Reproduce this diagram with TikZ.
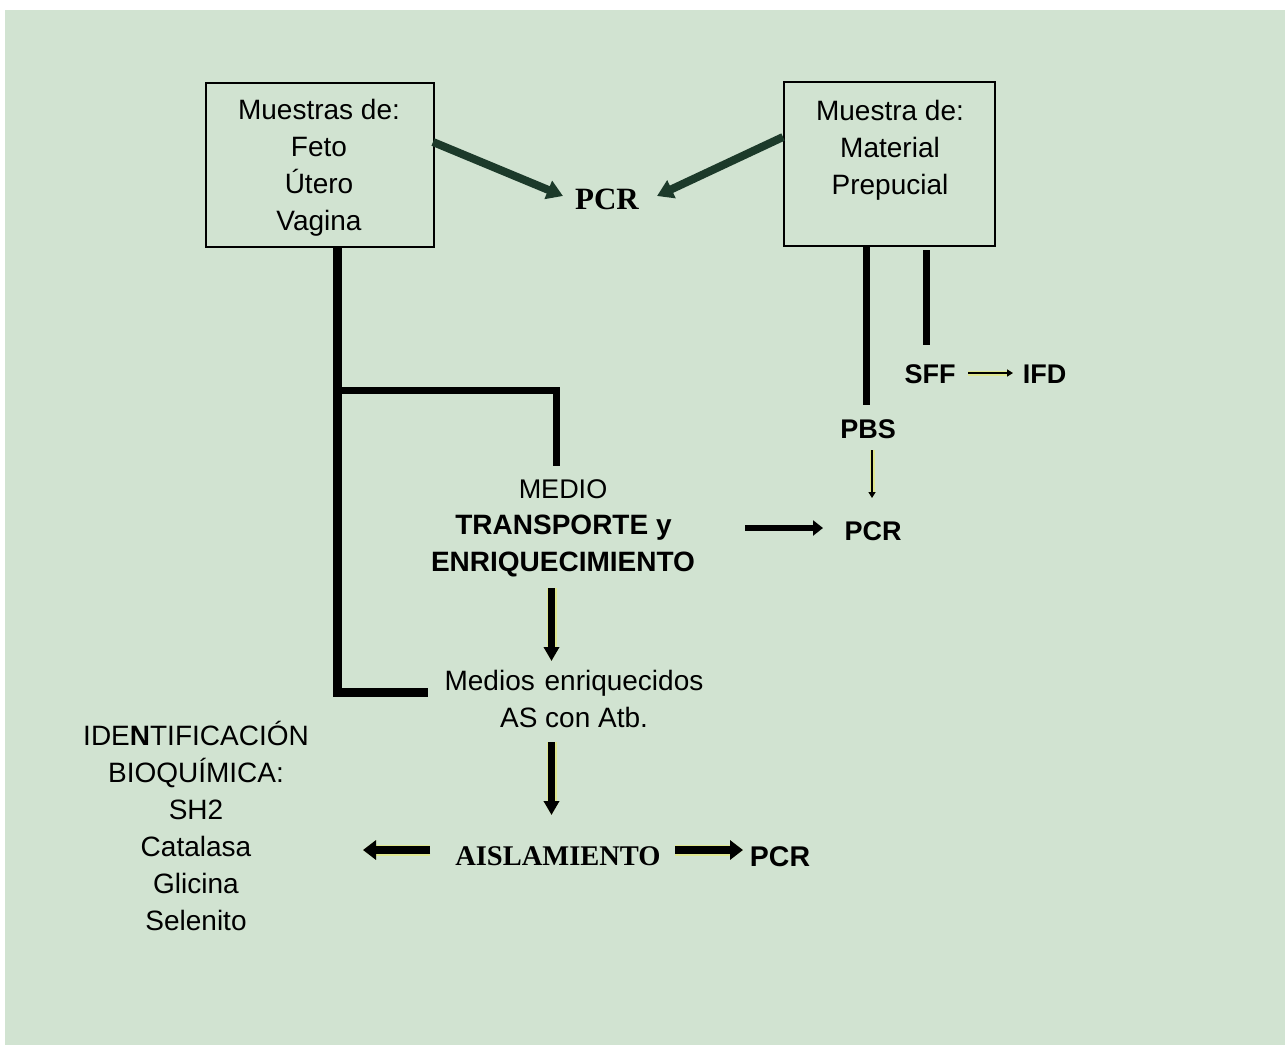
\documentclass[tikz,border=0pt]{standalone}
\usepackage{fontspec}
\setmainfont{Liberation Sans}
\newfontfamily\serifb{Liberation Serif}
\usetikzlibrary{arrows.meta}
\definecolor{bggreen}{RGB}{209,227,209}
\definecolor{darkgr}{RGB}{28,58,42}
\definecolor{glowy}{RGB}{235,235,90}
\tikzset{
  txt/.style={inner sep=0pt, align=center, font=\fontsize{27}{37}\selectfont},
  txtb/.style={inner sep=0pt, align=center, font=\fontsize{27}{37}\selectfont\bfseries},
  sertxt/.style={inner sep=0pt, align=center, font=\serifb\bfseries},
  boxnode/.style={draw=black, line width=2pt, minimum width=228pt, minimum height=164pt, inner sep=0pt},
  heavyline/.style={line width=8pt, black},
  glow/.style={preaction={draw=glowy, line width=#1, opacity=0.55}},
  bigarr/.style={line width=8pt, black, -{Triangle[width=19pt,length=13pt]}},
  midarr/.style={line width=7pt, black, -{Triangle[width=15pt,length=14pt]}},
  smallarr/.style={line width=2.5pt, black, -{Triangle[width=7pt,length=6pt]}},
  greenarr/.style={line width=8pt, darkgr, -{Triangle[width=19pt,length=16pt]}},
}
\begin{document}
\begin{tikzpicture}[x=1pt,y=-1pt]
\useasboundingbox (0,0) rectangle (1285,1045);
\fill[white] (0,0) rectangle (1285,1045);
\fill[bggreen] (5,10) rectangle (1285,1045);

% boxes
\node[boxnode] (boxL) at (320,165) {};
\node[boxnode, minimum width=211pt] (boxR) at (889.5,164) {};
\node[txt, font=\fontsize{28}{37}\selectfont] (txtL) at (319,168) {Muestras de:\\Feto\\Útero\\Vagina};
\node[txt, font=\fontsize{28}{37}\selectfont] (txtR) at (890,150) {Muestra de:\\Material\\Prepucial};

% top PCR
\node[sertxt, font=\fontsize{31}{37}\selectfont\serifb\bfseries, anchor=base] (pcrT) at (607,209) {PCR};
\coordinate (gL) at (433,142);
\coordinate (gR) at (783,137);
\coordinate (gLt) at (563,196);
\coordinate (gRt) at (657,196);
\draw[greenarr] (gL) -- (gLt);
\draw[greenarr] (gR) -- (gRt);

% left lines
\coordinate (a1) at (337,247);
\coordinate (a2) at (337,696.5);
\coordinate (a0) at (333,692);
\coordinate (a3) at (428,692);
\coordinate (b1) at (337,390);
\coordinate (b2) at (556,390);
\coordinate (b3) at (556,466);
\draw[heavyline, line width=9pt] (a1) -- (a2);
\draw[heavyline, line width=9pt] (a0) -- (a3);
\draw[heavyline, line width=7pt] (b1) -- (b2) -- (b3);

% right lines
\coordinate (c1) at (866,246);
\coordinate (c2) at (866,405);
\coordinate (d1) at (926,250);
\coordinate (d2) at (926,345);
\draw[heavyline, line width=7pt] (c1) -- (c2);
\draw[heavyline, line width=7pt] (d1) -- (d2);

% SFF, IFD, PBS
\node[txtb, anchor=base] (sff) at (930,383) {SFF};
\node[txtb, anchor=base] (ifd) at (1044.5,383) {IFD};
\node[txtb, anchor=base] (pbs) at (868,438) {PBS};
\node[txtb, anchor=base] (pcrR) at (873,540) {PCR};
\coordinate (s1) at (968,373);
\coordinate (s2) at (1013,373);
\draw[smallarr, glow=5pt] (s1) -- (s2);
\coordinate (p1) at (872,450);
\coordinate (p2) at (872,498);
\draw[smallarr, glow=5pt] (p1) -- (p2);

% MEDIO
\node[txt, anchor=base] (medio) at (563,498) {MEDIO};
\node[txtb, font=\fontsize{28}{37}\selectfont\bfseries, anchor=base] (transp) at (563.5,534.5) {TRANSPORTE y};
\node[txtb, font=\fontsize{28}{37}\selectfont\bfseries, anchor=base] (enriq) at (563,571) {ENRIQUECIMIENTO};
\coordinate (m1) at (745,528);
\coordinate (m2) at (823,528);
\draw[line width=6pt, black, -{Triangle[width=15pt,length=10pt]}] (m1) -- (m2);

% down arrows
\coordinate (e1) at (551.5,588);
\coordinate (e2) at (551.5,661);
\draw[midarr, glow=10pt] (e1) -- (e2);
\node[txt, font=\fontsize{28}{37}\selectfont, anchor=base] (medios1) at (574,690) {Medios\hspace{2pt} enriquecidos};
\node[txt, font=\fontsize{28}{37}\selectfont, anchor=base] (medios2) at (574,727) {AS con Atb.};
\coordinate (f1) at (551.5,742);
\coordinate (f2) at (551.5,815);
\draw[midarr, glow=10pt] (f1) -- (f2);

% AISLAMIENTO
\node[sertxt, font=\fontsize{28.5}{37}\selectfont\serifb\bfseries, anchor=base] (aisl) at (558,865) {AISLAMIENTO};
\node[txtb, font=\fontsize{28.5}{37}\selectfont\bfseries, anchor=base] (pcrB) at (780,866) {PCR};
\coordinate (h1) at (430,850);
\coordinate (h2) at (363,850);
\coordinate (k1) at (675,850);
\coordinate (k2) at (743,850);
\draw[bigarr, glow=11pt] (h1) -- (h2);
\draw[bigarr, glow=11pt] (k1) -- (k2);

% identification
\node[txt, font=\fontsize{28}{37}\selectfont, anchor=base] (id1) at (196,745) {IDE\textbf{N}TIFICACIÓN};
\node[txt, font=\fontsize{28}{37}\selectfont, anchor=base] (id2) at (196,782) {BIOQUÍMICA:};
\node[txt, font=\fontsize{28}{37}\selectfont, anchor=base] (id3) at (196,819) {SH2};
\node[txt, font=\fontsize{28}{37}\selectfont, anchor=base] (id4) at (196,856) {Catalasa};
\node[txt, font=\fontsize{28}{37}\selectfont, anchor=base] (id5) at (196,893) {Glicina};
\node[txt, font=\fontsize{28}{37}\selectfont, anchor=base] (id6) at (196,930) {Selenito};
\end{tikzpicture}
\end{document}
